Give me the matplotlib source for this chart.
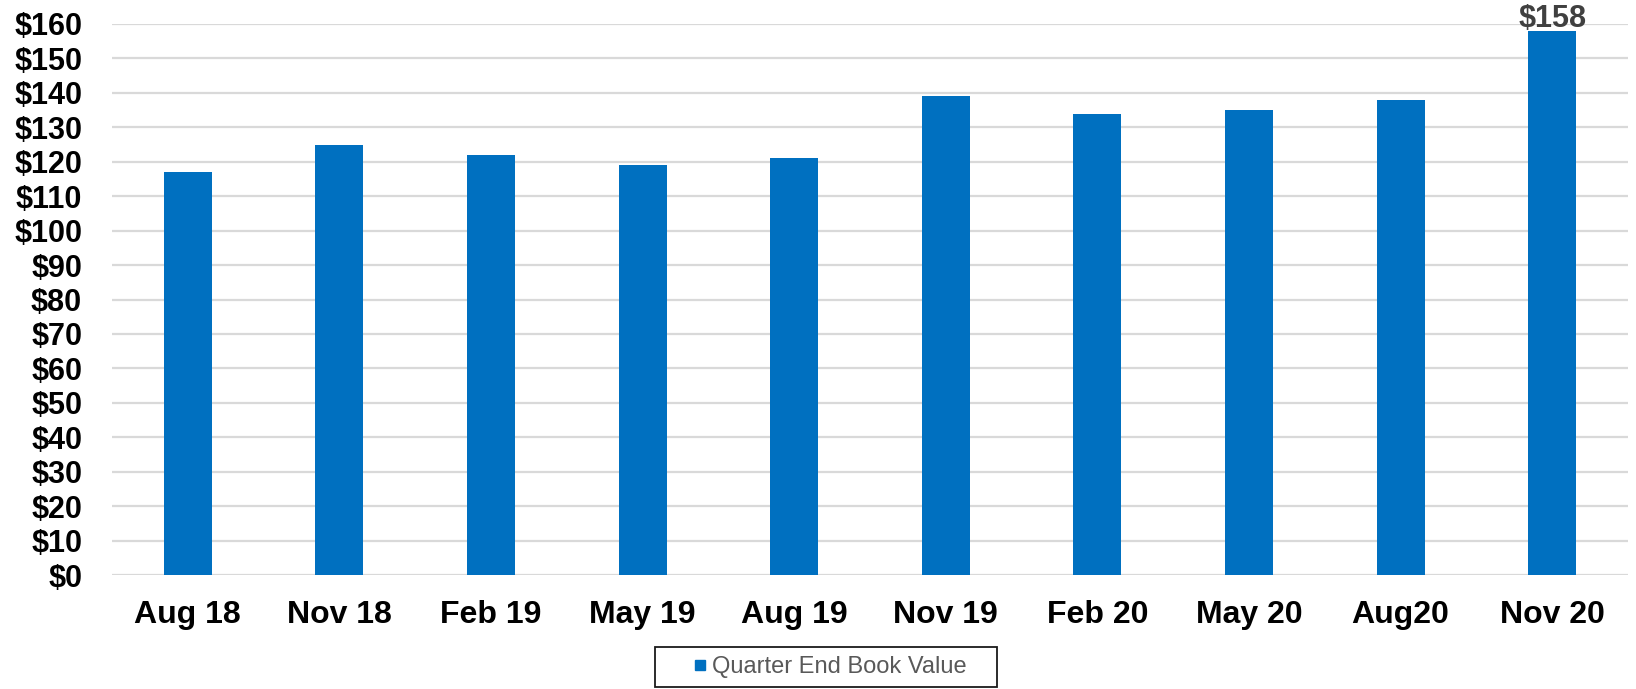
import matplotlib
matplotlib.use("Agg")
import matplotlib.pyplot as plt
from matplotlib.ticker import MultipleLocator, FuncFormatter
from matplotlib.lines import Line2D
from matplotlib.patches import Rectangle

categories = ["Aug 18", "Nov 18", "Feb 19", "May 19", "Aug 19",
              "Nov 19", "Feb 20", "May 20", "Aug20", "Nov 20"]
values = [117, 125, 122, 119, 121, 139, 134, 135, 138, 158]
series_name = "Quarter End Book Value"
label_index = 9

BAR_COLOR = "#0070C0"
W, H = 1636, 689

plt.rcParams['font.family'] = ['Liberation Sans', 'DejaVu Sans']

fig = plt.figure(figsize=(W / 100, H / 100), dpi=100)
ax = fig.add_axes([112 / W, 1 - 575 / H, (1628 - 112) / W, (575 - 24) / H])

x = list(range(len(categories)))
ax.bar(x, values, width=0.317, color=BAR_COLOR, zorder=3)

ax.set_xlim(-0.5, len(categories) - 0.5)
ax.set_ylim(0, 160)
ax.yaxis.set_major_locator(MultipleLocator(10))
ax.yaxis.set_major_formatter(FuncFormatter(lambda v, p: f"${v:.0f}"))
ax.grid(axis='y', color="#d9d9d9", linewidth=1.6, zorder=0)
ax.set_axisbelow(True)
for s in ax.spines.values():
    s.set_visible(False)
ax.tick_params(axis='both', length=0)
ax.tick_params(axis='y', pad=21.5, labelsize=22)
ax.tick_params(axis='x', pad=18, labelsize=23)
ax.set_xticks(x)
ax.set_xticklabels(categories)
for lab in ax.get_xticklabels() + ax.get_yticklabels():
    lab.set_fontweight('bold')
    lab.set_color('black')

ax.annotate(f"${values[label_index]}", xy=(label_index, values[label_index]),
            xytext=(0, 2.7), textcoords='offset points', ha='center', va='baseline',
            fontsize=22, fontweight='bold', color='#404040', annotation_clip=False)

handle = Line2D([], [], marker='s', linestyle='none', markersize=7.5,
                markerfacecolor=BAR_COLOR, markeredgecolor=BAR_COLOR)
leg = fig.legend(handles=[handle], labels=[series_name], loc='center',
                 bbox_to_anchor=(830.5 / W, 1 - 667 / H), fontsize=17, frameon=False,
                 handlelength=0.42, handletextpad=0.3, borderpad=0, borderaxespad=0)
for t in leg.get_texts():
    t.set_color('#595959')

fig.add_artist(Rectangle((655 / W, 1 - 687 / H), (997 - 655) / W, (687 - 647) / H,
                         transform=fig.transFigure, fill=False,
                         edgecolor='#1a1a1a', linewidth=1.3))

fig.savefig("out.png", dpi=100)
